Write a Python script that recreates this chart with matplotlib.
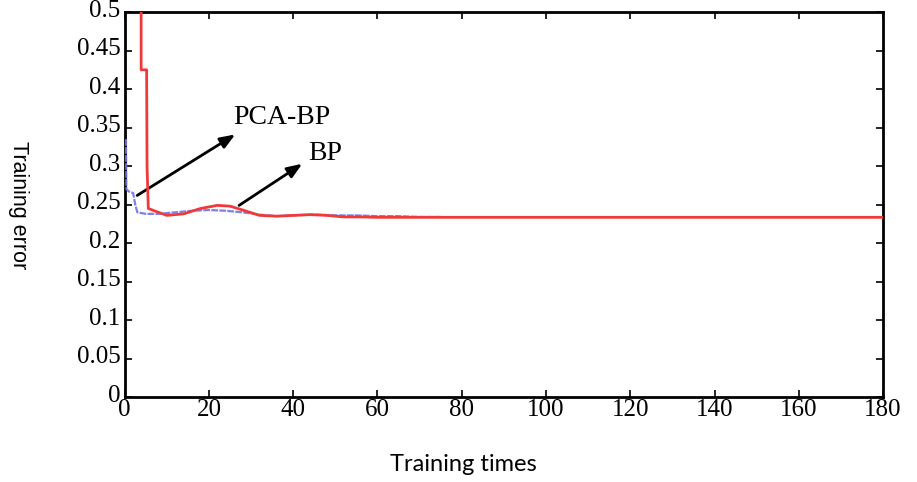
import matplotlib.pyplot as plt
from matplotlib.transforms import ScaledTranslation

# BP curve (red)
bp_t = [3.9, 3.9, 5.2, 5.3, 5.6, 7, 10, 14, 18, 22, 25, 28, 32, 36, 40, 44, 48, 52, 56, 60, 180]
bp_err = [0.53, 0.425, 0.425, 0.30, 0.245, 0.242, 0.236, 0.238, 0.245, 0.249, 0.248, 0.243,
          0.236, 0.235, 0.236, 0.237, 0.236, 0.234, 0.234, 0.2335, 0.2335]

# PCA-BP curve (blue)
pca_t = [0.3, 0.4, 1, 2, 2.5, 3, 5, 8, 12, 16, 20, 24, 28, 32, 36, 40, 45, 50, 55, 60, 65, 70, 75]
pca_err = [0.335, 0.27, 0.267, 0.265, 0.25, 0.240, 0.238, 0.238, 0.240, 0.242, 0.243, 0.242,
           0.240, 0.237, 0.235, 0.236, 0.237, 0.236, 0.236, 0.235, 0.235, 0.234, 0.234]

x_ticks = list(range(0, 181, 20))
y_ticks = [0, 0.05, 0.1, 0.15, 0.2, 0.25, 0.3, 0.35, 0.4, 0.45, 0.5]
y_labels = ['0', '0.05', '0.1', '0.15', '0.2', '0.25', '0.3', '0.35', '0.4', '0.45', '0.5']

serif = ['Liberation Serif', 'DejaVu Serif']

fig = plt.figure(figsize=(9.17, 4.82), dpi=100)
ax = fig.add_axes([0.136, 0.176, 0.827, 0.799])

ax.plot(pca_t, pca_err, color='#6f72ee', lw=1.6, ls=(0, (3, 0.6)), alpha=0.9, zorder=3)
ax.plot(bp_t, bp_err, color='#f03a3a', lw=2, zorder=4)

ax.set_xlim(0, 180)
ax.set_ylim(0, 0.5)
ax.set_xticks(x_ticks)
ax.set_xticklabels([str(v) for v in x_ticks], family=serif, fontsize=18)
ax.set_yticks(y_ticks)
ax.set_yticklabels(y_labels, family=serif, fontsize=18)
ax.tick_params(direction='in', top=True, right=True, length=5, width=1.2, pad=1)
ax.tick_params(axis='y', pad=3)
for spine in ax.spines.values():
    spine.set_linewidth(2)

# y labels sit a little above their ticks in the original
shift = ScaledTranslation(0, 4 / 100, fig.dpi_scale_trans)
for lbl in ax.get_yticklabels():
    lbl.set_transform(lbl.get_transform() + shift)

ax.annotate('', xy=(26.8, 0.343), xytext=(2.4, 0.26),
            arrowprops=dict(arrowstyle='-|>,head_length=0.9,head_width=0.35', color='black', lw=2))
ax.text(25.8, 0.363, 'PCA-BP', family=serif, fontsize=20, va='center', ha='left')
ax.annotate('', xy=(42.7, 0.305), xytext=(26.6, 0.247),
            arrowprops=dict(arrowstyle='-|>,head_length=0.9,head_width=0.35', color='black', lw=2))
ax.text(43.6, 0.316, 'BP', family=serif, fontsize=20, va='center', ha='left')

fig.text(0.505, 0.037, 'Training times', family='Lato', fontsize=17, ha='center', va='center')
fig.text(0.02, 0.575, 'Training error', family='Liberation Sans', fontsize=15.5,
         ha='center', va='center', rotation=-90)

fig.savefig('out.png', dpi=100)
